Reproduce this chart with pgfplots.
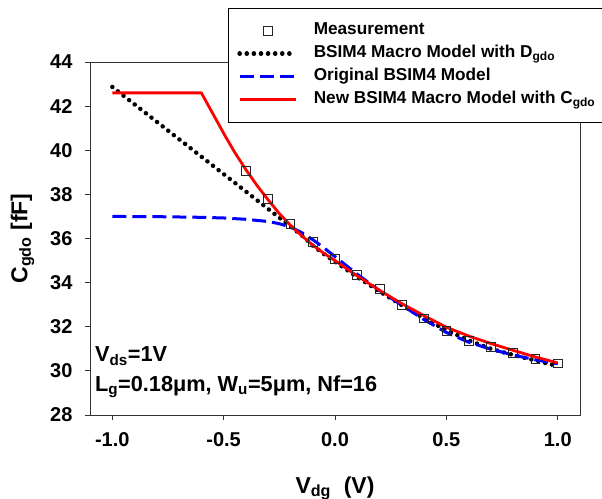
\documentclass[border=0pt]{standalone}
\usepackage{fontspec}
\setmainfont{Liberation Sans}
\usepackage{pgfplots}
\pgfplotsset{compat=1.18}
\definecolor{pblue}{RGB}{0,0,255}
\definecolor{pred}{RGB}{255,0,0}
\newcommand\tickfont{\fontsize{20bp}{23bp}\selectfont\bfseries}
\newcommand\labfont{\fontsize{23bp}{26bp}\selectfont\bfseries}
\newcommand\legfont{\fontsize{17.2bp}{20bp}\selectfont\bfseries}
\newcommand\annfont{\fontsize{21.7bp}{25bp}\selectfont\bfseries}
\pgfplotsset{
  lineleg/.style={legend image code/.code={\draw[##1] (0bp,0bp) -- (56bp,0bp); \path (69bp,0bp);}},
  markleg/.style={legend image code/.code={\draw[mark repeat=2,mark phase=2,##1] plot coordinates {(0bp,0bp)(28bp,0bp)(56bp,0bp)}; \path (69bp,0bp);}},
}
\begin{document}
\begin{tikzpicture}
\begin{axis}[
  at={(0,0)}, anchor=south west,
  scale only axis, width=490bp, height=353bp,
  xmin=-1.1, xmax=1.1, ymin=28, ymax=44,
  xtick={-1,-0.5,0,0.5,1}, ytick={28,30,32,34,36,38,40,42,44},
  xticklabel style={/pgf/number format/fixed, /pgf/number format/fixed zerofill, /pgf/number format/precision=1, yshift=-9bp},
  yticklabel style={xshift=-9bp},
  /pgf/number format/assume math mode=true,
  tick label style={font=\tickfont},
  tick align=outside, xtick pos=bottom, ytick pos=left,
  major tick length=5bp,
  tick style={black!80, line width=0.8bp},
  axis line style={draw=black!80, line width=0.8bp},
  xlabel={V\textsubscript{dg}\ \ (V)},
  ylabel={C\textsubscript{gdo} [fF]},
  label style={font=\labfont},
  xlabel style={at={(axis description cs:0.5,0)}, anchor=base, yshift=-78bp},
  ylabel style={at={(axis description cs:-0.128,0.5)}, anchor=base},
  legend style={at={(axis description cs:0.2816,1.153)}, anchor=north west,
    fill=white, draw=black, line width=0.8bp, font=\legfont,
    inner xsep=9bp, inner ysep=12.3bp, row sep=3bp,
    nodes={text height=13bp, text depth=5bp, inner ysep=1bp, inner xsep=3bp}},
  legend cell align=left,
  clip=false,
]
\addplot[only marks, mark=square, mark size=4.4bp, mark options={draw=black!85, line width=0.8bp}, markleg]
table {
x y
-0.4 39.07
-0.3 37.78
-0.2 36.67
-0.1 35.83
0.0 35.06
0.1 34.36
0.2 33.72
0.3 33.00
0.4 32.38
0.5 31.82
0.6 31.37
0.7 31.10
0.8 30.80
0.9 30.54
1.0 30.34
};
\addlegendentry{Measurement}
\addplot[black, line width=4.4bp, line cap=round, dash pattern=on 0.2bp off 6.9bp, lineleg]
table {
x y
-1.0 42.87
-0.8 41.29
-0.6 39.71
-0.4 38.13
-0.3 37.34
-0.2 36.55
-0.15 36.15
-0.1 35.68
-0.05 35.30
0.0 34.95
0.1 34.25
0.2 33.60
0.3 32.98
0.4 32.38
0.5 31.85
0.6 31.38
0.7 31.00
0.8 30.72
0.9 30.47
1.0 30.22
};
\addlegendentry{BSIM4 Macro Model with D\textsubscript{gdo}}
\addplot[pblue, line width=3bp, dash pattern=on 14bp off 6bp, lineleg]
table {
x y
-1.0 37.00
-0.8 36.99
-0.6 36.96
-0.5 36.93
-0.4 36.87
-0.3 36.77
-0.25 36.67
-0.2 36.52
-0.15 36.27
-0.1 35.95
-0.05 35.58
0.0 35.18
0.1 34.38
0.2 33.64
0.3 32.98
0.4 32.32
0.5 31.74
0.6 31.30
0.7 30.98
0.8 30.72
0.9 30.50
1.0 30.32
};
\addlegendentry{Original BSIM4 Model}
\addplot[pred, line width=2.8bp, line join=round, lineleg]
table {
x y
-1.0 42.60
-0.6 42.60
-0.495 40.68
-0.45 39.90
-0.4 39.12
-0.35 38.40
-0.3 37.75
-0.25 37.13
-0.2 36.60
-0.15 36.13
-0.1 35.70
-0.05 35.33
0.0 35.00
0.1 34.30
0.2 33.65
0.3 33.05
0.4 32.50
0.5 31.98
0.6 31.58
0.7 31.24
0.8 30.93
0.9 30.63
1.0 30.36
};
\addlegendentry{New BSIM4 Macro Model with C\textsubscript{gdo}}
\node[anchor=base west, inner sep=0pt, font=\annfont] at (rel axis cs:0.0102,0.151) {V\textsubscript{ds}=1V};
\node[anchor=base west, inner sep=0pt, font=\annfont] at (rel axis cs:0.0102,0.066) {L\textsubscript{g}=0.18μm, W\textsubscript{u}=5μm, Nf=16};
\end{axis}
\pgfresetboundingbox
\path[use as bounding box] (-90bp,-84bp) rectangle (512bp,415bp);
\end{tikzpicture}
\end{document}
